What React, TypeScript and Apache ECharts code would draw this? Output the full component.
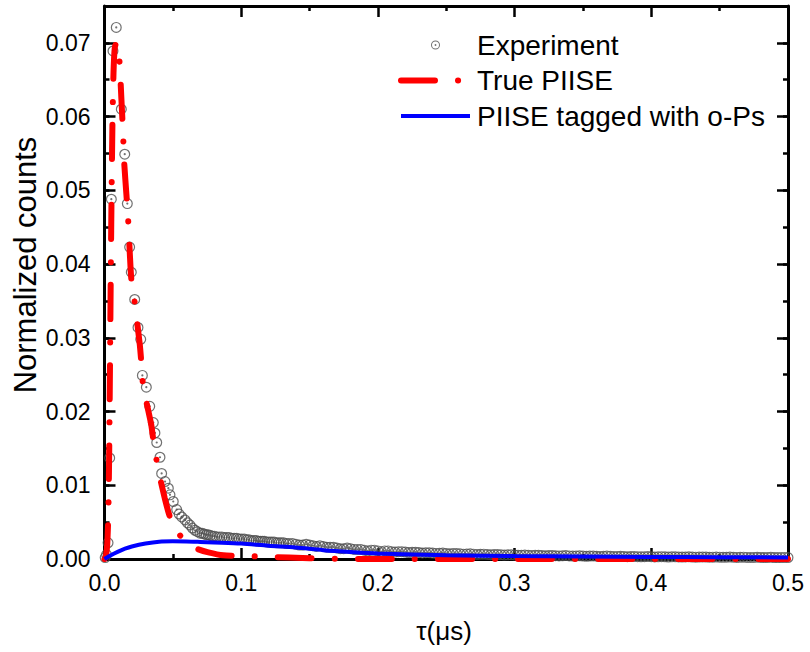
import React, { useEffect, useRef } from "react";
import * as echarts from "echarts";

// Experiment: tau (µs) and normalized counts
const expTau = [
  0.0005, 0.0015, 0.0026, 0.0038, 0.005, 0.0062, 0.0086, 0.0123, 0.0148, 0.0167,
  0.0184, 0.0196, 0.0221, 0.0245, 0.0265, 0.0277, 0.0306, 0.0331, 0.0357, 0.0369,
  0.0382, 0.0406, 0.0418, 0.0443, 0.0467, 0.0479, 0.0503, 0.0528, 0.0546, 0.0565,
  0.0589, 0.0607, 0.0625, 0.0643, 0.0662, 0.068, 0.0699, 0.0729, 0.0759, 0.079,
  0.0821, 0.0858, 0.0894, 0.093, 0.0967, 0.1003, 0.104, 0.1075, 0.111, 0.114,
  0.117, 0.1205, 0.124, 0.1275, 0.131,
  0.135, 0.14, 0.145, 0.15, 0.155, 0.16, 0.165, 0.17, 0.175, 0.18,
  0.185, 0.19, 0.195, 0.2, 0.205, 0.21, 0.215, 0.22, 0.225, 0.23,
  0.235, 0.24, 0.245, 0.25, 0.255, 0.26, 0.265, 0.27, 0.275, 0.28,
  0.285, 0.29, 0.295, 0.3, 0.305, 0.31, 0.315, 0.32, 0.325, 0.33,
  0.335, 0.34, 0.345, 0.35, 0.355, 0.36, 0.365, 0.37, 0.375, 0.38,
  0.385, 0.39, 0.395, 0.4, 0.405, 0.41, 0.415, 0.42, 0.425, 0.43,
  0.435, 0.44, 0.445, 0.45, 0.455, 0.46, 0.465, 0.47, 0.475, 0.48,
  0.485, 0.49, 0.495, 0.5,
];
const expCounts = [
  0.0002, 0.0006, 0.0022, 0.0137, 0.0488, 0.0689, 0.0721, 0.061, 0.0549, 0.0482,
  0.0423, 0.0389, 0.0352, 0.0314, 0.0298, 0.0249, 0.0233, 0.0207, 0.0185, 0.0171,
  0.0158, 0.0138, 0.0116, 0.0105, 0.0096, 0.0087, 0.0078, 0.0067, 0.0061, 0.0057,
  0.0053, 0.0049, 0.0046, 0.0042, 0.0039, 0.0037, 0.0035, 0.0034, 0.0033, 0.0031,
  0.003, 0.003, 0.0029, 0.0028, 0.0028, 0.0027, 0.0026, 0.0025, 0.0025, 0.0024,
  0.0024, 0.0023, 0.0023, 0.0022, 0.0022,
  0.0021, 0.002, 0.0019, 0.0019, 0.0017, 0.0017, 0.0016, 0.0015, 0.0014, 0.0014,
  0.0013, 0.0012, 0.0012, 0.0011, 0.0011, 0.001, 0.001, 0.00095, 0.0009, 0.00088,
  0.00085, 0.0008, 0.00078, 0.00075, 0.00073, 0.0007, 0.00068, 0.00066, 0.00064, 0.00062,
  0.0006, 0.00058, 0.00056, 0.00054, 0.00052, 0.0005, 0.0005, 0.00048, 0.00046, 0.00045,
  0.00044, 0.00042, 0.00041, 0.0004, 0.00039, 0.00038, 0.00037, 0.00036, 0.00035, 0.00034,
  0.00033, 0.00032, 0.00032, 0.00031, 0.0003, 0.0003, 0.00029, 0.00028, 0.00028, 0.00027,
  0.00026, 0.00026, 0.00025, 0.00025, 0.00024, 0.00024, 0.00023, 0.00022, 0.00022, 0.00021,
  0.00021, 0.0002, 0.0002, 0.0002,
];
// Experiment: channels in between (dense tail)
const expTauMid = [
  0.0714, 0.0744, 0.0775, 0.0805, 0.084, 0.0876, 0.0912, 0.0948, 0.0985, 0.1022,
  0.1057, 0.1093, 0.1125, 0.1155, 0.1188, 0.1222, 0.1258, 0.1292, 0.133,
  0.1375, 0.1425, 0.1475, 0.1525, 0.1575, 0.1625, 0.1675, 0.1725, 0.1775, 0.1825,
  0.1875, 0.1925, 0.1975, 0.2025, 0.2075, 0.2125, 0.2175, 0.2225, 0.2275, 0.2325,
  0.2375, 0.2425, 0.2475, 0.2525, 0.2575, 0.2625, 0.2675, 0.2725, 0.2775, 0.2825,
  0.2875, 0.2925, 0.2975, 0.3025, 0.3075, 0.3125, 0.3175, 0.3225, 0.3275, 0.3325,
  0.3375, 0.3425, 0.3475, 0.3525, 0.3575, 0.3625, 0.3675, 0.3725, 0.3775, 0.3825,
  0.3875, 0.3925, 0.3975, 0.4025, 0.4075, 0.4125, 0.4175, 0.4225, 0.4275, 0.4325,
  0.4375, 0.4425, 0.4475, 0.4525, 0.4575, 0.4625, 0.4675, 0.4725, 0.4775, 0.4825,
  0.4875, 0.4925, 0.4975,
];
const expCountsMid = [
  0.0035, 0.0033, 0.0032, 0.0031, 0.003, 0.0029, 0.0029, 0.0028, 0.0027, 0.0027,
  0.0026, 0.0025, 0.0024, 0.0024, 0.0023, 0.0023, 0.0022, 0.0022, 0.0021,
  0.0021, 0.0019, 0.002, 0.0018, 0.0018, 0.0016, 0.0016, 0.0014, 0.0015, 0.0013,
  0.0013, 0.0011, 0.0012, 0.001, 0.0011, 0.00095, 0.001, 0.00088, 0.00092, 0.00082,
  0.00085, 0.00076, 0.0008, 0.00071, 0.00074, 0.00066, 0.0007, 0.00062, 0.00066, 0.00058,
  0.00062, 0.00054, 0.00058, 0.0005, 0.00054, 0.00047, 0.00051, 0.00045, 0.00048, 0.00042,
  0.00046, 0.0004, 0.00043, 0.00037, 0.00041, 0.00035, 0.00039, 0.00033, 0.00037, 0.00031,
  0.00035, 0.0003, 0.00034, 0.00028, 0.00032, 0.00027, 0.0003, 0.00026, 0.00029, 0.00025,
  0.00028, 0.00024, 0.00027, 0.00023, 0.00026, 0.00022, 0.00025, 0.00021, 0.00024, 0.0002,
  0.00023, 0.00019, 0.00022,
];

// True PIISE
const trueTau = [
  0, 0.001, 0.002, 0.0028, 0.0034, 0.004, 0.0046, 0.0052, 0.0058, 0.0066,
  0.0075, 0.0088, 0.0099, 0.0112, 0.0122, 0.0135, 0.0145, 0.016, 0.0173, 0.0185,
  0.0196, 0.0221, 0.0258, 0.027, 0.0282, 0.031, 0.0342, 0.0367, 0.0404, 0.044,
  0.0477, 0.054, 0.06, 0.0675, 0.076, 0.087, 0.103, 0.12, 0.15, 0.2,
  0.3, 0.4, 0.5,
];
const trueCounts = [
  0, 0.0004, 0.002, 0.006, 0.014, 0.026, 0.039, 0.05, 0.059, 0.066,
  0.0693, 0.0701, 0.0698, 0.0668, 0.063, 0.058, 0.0535, 0.0495, 0.046, 0.0415,
  0.038, 0.0348, 0.0291, 0.0265, 0.0236, 0.021, 0.0182, 0.0148, 0.0112, 0.0083,
  0.0058, 0.0035, 0.0023, 0.0014, 0.0009, 0.0005, 0.0004, 0.0003, 0.0001, 0,
  0, 0, 0,
];

// PIISE tagged with o-Ps
const taggedTau = [
  0, 0.005, 0.01, 0.015, 0.02, 0.03, 0.04, 0.05, 0.06, 0.07,
  0.08, 0.1, 0.12, 0.14, 0.16, 0.18, 0.2, 0.25, 0.3, 0.35,
  0.4, 0.45, 0.5,
];
const taggedCounts = [
  0, 0.00055, 0.001, 0.0014, 0.0017, 0.0021, 0.00235, 0.0024, 0.00238, 0.00232,
  0.00225, 0.0021, 0.0018, 0.00155, 0.0012, 0.00095, 0.00075, 0.00052, 0.0004, 0.00033,
  0.00028, 0.00025, 0.00022,
];

const seriesNames = ["Experiment", "True PIISE", "PIISE tagged with o-Ps"];
const xTitle = "τ(μs)";
const yTitle = "Normalized counts";

const FONT = "Arial, 'Liberation Sans', sans-serif";
const RING =
  "path://M10,0A10,10,0,1,1,-10,0A10,10,0,1,1,10,0ZM7.8,0A7.8,7.8,0,1,0,-7.8,0A7.8,7.8,0,1,0,7.8,0ZM2,0A2,2,0,1,1,-2,0A2,2,0,1,1,2,0Z";
const RED_DASH = [34, 23, 0.1, 23];

const pairs = (xs: number[], ys: number[]) => xs.map((x, i) => [x, ys[i]]);

export default function App() {
  const ref = useRef<HTMLDivElement>(null);
  useEffect(() => {
    if (!ref.current) return;
    const chart = echarts.init(ref.current, null, { renderer: "svg" });
    const lineBlack = { color: "#000", width: 3 };
    const tickBlack = { color: "#000", width: 2.5 };
    const noSplit = { splitLine: { show: false }, minorSplitLine: { show: false } };
    const majorX = (position: string, labels: boolean) => ({
      type: "value",
      min: 0,
      max: 0.5,
      interval: 0.1,
      position,
      axisLine: { show: true, onZero: false, lineStyle: lineBlack },
      axisTick: { show: true, inside: true, length: 11, lineStyle: tickBlack },
      minorTick: { show: true, splitNumber: 2, length: 5, lineStyle: tickBlack },
      ...noSplit,
      axisLabel: labels
        ? {
            show: true,
            margin: 12,
            fontSize: 23,
            fontFamily: FONT,
            color: "#000",
            formatter: (v: number) => v.toFixed(1),
          }
        : { show: false },
    });
    const majorY = (position: string, labels: boolean) => ({
      type: "value",
      min: 0,
      max: 0.075,
      interval: 0.01,
      position,
      axisLine: { show: true, onZero: false, lineStyle: lineBlack },
      axisTick: { show: true, inside: true, length: 11, lineStyle: tickBlack },
      minorTick: { show: false },
      ...noSplit,
      axisLabel: labels
        ? {
            show: true,
            margin: 14,
            fontSize: 23,
            fontFamily: FONT,
            color: "#000",
            showMaxLabel: false,
            formatter: (v: number) => v.toFixed(2),
          }
        : { show: false },
    });
    const minorY = (position: string) => ({
      type: "value",
      min: 0,
      max: 0.075,
      interval: 0.005,
      position,
      axisLine: { show: false, onZero: false },
      axisTick: { show: true, inside: true, length: 5, lineStyle: tickBlack },
      minorTick: { show: false },
      ...noSplit,
      axisLabel: { show: false },
    });
    chart.setOption({
      animation: false,
      backgroundColor: "#fff",
      grid: { left: 104.5, right: 22, top: 6, bottom: 93, containLabel: false },
      xAxis: [majorX("bottom", true), majorX("top", false)],
      yAxis: [majorY("left", true), majorY("right", false), minorY("left"), minorY("right")],
      legend: {
        orient: "vertical",
        left: 398,
        top: 30,
        padding: 0,
        itemWidth: 69,
        itemHeight: 9,
        itemGap: 5.5,
        selectedMode: false,
        textStyle: { fontSize: 28, fontFamily: FONT, color: "#000", lineHeight: 30, padding: [0, 0, 0, 2] },
        data: [
          { name: seriesNames[0], icon: RING, itemStyle: { color: "#4d4d4d" } },
          {
            name: seriesNames[1],
            itemStyle: { opacity: 0 },
            lineStyle: { color: "#ff0000", width: 6, type: RED_DASH, cap: "round" },
          },
          {
            name: seriesNames[2],
            itemStyle: { opacity: 0 },
            lineStyle: { color: "#0000ff", width: 4 },
          },
        ],
      },
      graphic: [
        {
          type: "text",
          x: 25,
          y: 265,
          rotation: Math.PI / 2,
          style: {
            text: yTitle,
            fontSize: 31,
            fontFamily: FONT,
            fill: "#000",
            textAlign: "center",
            textVerticalAlign: "middle",
          },
        },
        {
          type: "text",
          x: 444,
          y: 631,
          style: {
            text: xTitle,
            fontSize: 26,
            fontFamily: FONT,
            fill: "#000",
            textAlign: "center",
            textVerticalAlign: "middle",
          },
        },
      ],
      series: [
        {
          name: seriesNames[0],
          type: "scatter",
          data: pairs(expTau, expCounts).concat(pairs(expTauMid, expCountsMid)),
          symbol: RING,
          symbolSize: 11,
          itemStyle: { color: "#4d4d4d" },
          z: 1,
        },
        {
          name: seriesNames[1],
          type: "line",
          data: pairs(trueTau, trueCounts),
          showSymbol: false,
          symbol: "none",
          smooth: 0.2,
          lineStyle: { color: "#ff0000", width: 6, type: RED_DASH, cap: "round" },
          itemStyle: { color: "#ff0000" },
          z: 2,
        },
        {
          name: seriesNames[2],
          type: "line",
          data: pairs(taggedTau, taggedCounts),
          showSymbol: false,
          symbol: "none",
          smooth: 0.3,
          lineStyle: { color: "#0000ff", width: 4 },
          itemStyle: { color: "#0000ff" },
          z: 3,
        },
      ],
    });
    return () => chart.dispose();
  }, []);
  return (
    <div
      ref={ref}
      style={{ position: "fixed", left: 0, top: 0, width: 810, height: 652, background: "#fff" }}
    />
  );
}
